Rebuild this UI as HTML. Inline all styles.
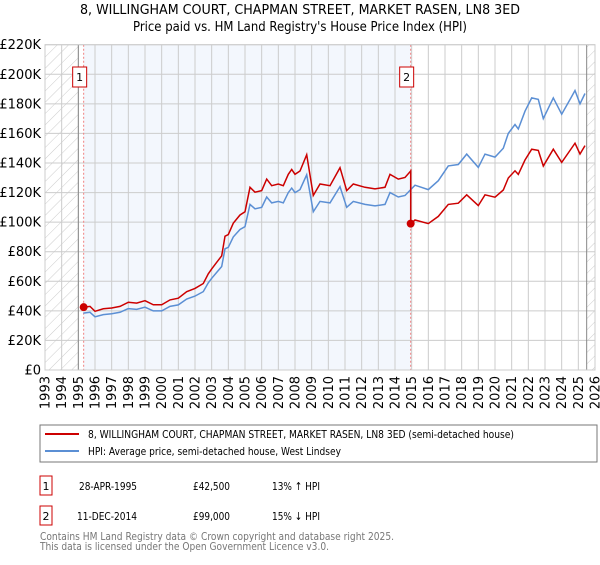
<!DOCTYPE html>
<html><head><meta charset="utf-8"><style>
body{margin:0;background:#fff;}
svg{font-family:"DejaVu Sans","Liberation Sans",sans-serif;}
</style></head><body>
<svg id="c" width="600" height="560" xmlns="http://www.w3.org/2000/svg">
<defs><pattern id="hatch" width="8" height="8" patternUnits="userSpaceOnUse" patternTransform="rotate(45)"><line x1="0" y1="0" x2="0" y2="8" stroke="#ccc" stroke-width="1"/></pattern></defs>
<text x="80" y="14" font-size="13" textLength="440" lengthAdjust="spacingAndGlyphs" fill="#000">8, WILLINGHAM COURT, CHAPMAN STREET, MARKET RASEN, LN8 3ED</text>
<text x="133" y="31" font-size="13" textLength="334" lengthAdjust="spacingAndGlyphs" fill="#000">Price paid vs. HM Land Registry's House Price Index (HPI)</text>
<g id="plot"></g>
<rect x="40" y="425" width="557" height="37" fill="#fff" stroke="#777"/>
<line x1="45" y1="434" x2="79" y2="434" stroke="#cc0000" stroke-width="2"/>
<text x="88" y="438" font-size="11" textLength="426" lengthAdjust="spacingAndGlyphs">8, WILLINGHAM COURT, CHAPMAN STREET, MARKET RASEN, LN8 3ED (semi-detached house)</text>
<line x1="45" y1="451" x2="79" y2="451" stroke="#5b8fd4" stroke-width="2"/>
<text x="88" y="455" font-size="11" textLength="253" lengthAdjust="spacingAndGlyphs">HPI: Average price, semi-detached house, West Lindsey</text>
<rect x="40" y="476" width="12" height="19" fill="#fff" stroke="#cc0000"/>
<text x="46" y="490" font-size="11" text-anchor="middle">1</text>
<text x="79" y="490" font-size="11" textLength="58" lengthAdjust="spacingAndGlyphs">28-APR-1995</text>
<text x="193" y="490" font-size="11" textLength="37" lengthAdjust="spacingAndGlyphs">£42,500</text>
<text x="272" y="490" font-size="11" textLength="48" lengthAdjust="spacingAndGlyphs">13% ↑ HPI</text>
<rect x="40" y="506" width="12" height="19" fill="#fff" stroke="#cc0000"/>
<text x="46" y="520" font-size="11" text-anchor="middle">2</text>
<text x="77" y="520" font-size="11" textLength="60" lengthAdjust="spacingAndGlyphs">11-DEC-2014</text>
<text x="193" y="520" font-size="11" textLength="37" lengthAdjust="spacingAndGlyphs">£99,000</text>
<text x="272" y="520" font-size="11" textLength="48" lengthAdjust="spacingAndGlyphs">15% ↓ HPI</text>
<text x="40" y="540" font-size="11" fill="#777" textLength="354" lengthAdjust="spacingAndGlyphs">Contains HM Land Registry data © Crown copyright and database right 2025.</text>
<text x="40" y="550" font-size="11" fill="#777" textLength="289" lengthAdjust="spacingAndGlyphs">This data is licensed under the Open Government Licence v3.0.</text>
</svg>
<script>
const hpiYears=[1995.3,1995.7,1996.0,1996.5,1997,1997.5,1998,1998.5,1999,1999.5,2000,2000.5,2001,2001.5,2002,2002.5,2002.8,2003,2003.3,2003.6,2003.8,2004,2004.3,2004.7,2005,2005.3,2005.6,2006,2006.3,2006.6,2007,2007.3,2007.6,2007.8,2008,2008.3,2008.7,2009.1,2009.5,2010.1,2010.7,2011.1,2011.5,2012.2,2012.8,2013.4,2013.7,2014.2,2014.6,2015.2,2016,2016.6,2017.2,2017.8,2018.3,2019,2019.4,2020,2020.5,2020.8,2021.2,2021.4,2021.8,2022.2,2022.6,2022.9,2023.5,2024,2024.6,2024.8,2025.1,2025.4];
const hpiValues=[38.5,39,36,37.5,38,39,41.5,41,42.5,40,40,43,44,48,50,53,59,62,66,70,82,83,90,95,97,112,109,110,117,113,114,113,120,123,120,122,132,107,114,113,124,110,114,112,111,112,120,117,118,125,122,128,138,139,146,137,146,144,150,160,166,163,175,184,183,170,184,173,185,189,180,187];
const saleDates=[1995.32,2014.94];
const salePrices=[42.5,99];
const yTicks=[0,20,40,60,80,100,120,140,160,180,200,220];
const xTicks=[1993,1994,1995,1996,1997,1998,1999,2000,2001,2002,2003,2004,2005,2006,2007,2008,2009,2010,2011,2012,2013,2014,2015,2016,2017,2018,2019,2020,2021,2022,2023,2024,2025,2026];
const X0=45,X1=595,Y0=370,Y1=44.7;
const xs=y=>X0+(y-1993)/(2026-1993)*(X1-X0);
const ys=v=>Y0-v/220*(Y0-Y1);
const NS="http://www.w3.org/2000/svg";
const g=document.getElementById('plot');
function mk(t,a,p){const e=document.createElementNS(NS,t);for(const k in a)e.setAttribute(k,a[k]);(p||g).appendChild(e);return e;}
function hpiAt(t){for(let i=0;i<hpiYears.length-1;i++){if(t<=hpiYears[i+1]){const f=(t-hpiYears[i])/(hpiYears[i+1]-hpiYears[i]);return hpiValues[i]+f*(hpiValues[i+1]-hpiValues[i]);}}return hpiValues[hpiValues.length-1];}
let e;
e=mk('rect',{x:xs(1993),y:Y1,width:xs(1995)-xs(1993),height:Y0-Y1,fill:'url(#hatch)'});

e=mk('rect',{x:xs(2025.5),y:Y1,width:X1-xs(2025.5),height:Y0-Y1,fill:'url(#hatch)'});

e=mk('rect',{x:xs(saleDates[0]),y:Y1,width:xs(saleDates[1])-xs(saleDates[0]),height:Y0-Y1,fill:'#eef3fc',opacity:0.7});

yTicks.forEach(v=>{const l=mk('line',{x1:X0,x2:X1,y1:ys(v),y2:ys(v),stroke:'#ccc'});

const t=mk('text',{x:X0-4,y:ys(v)+4.5,'text-anchor':'end','font-size':13});t.textContent=v===0?'£0':'£'+v+'K';
});
xTicks.forEach(yr=>{const l=mk('line',{x1:xs(yr),x2:xs(yr),y1:Y1,y2:Y0,stroke:'#ccc'});

const t=mk('text',{x:0,y:0,'text-anchor':'end','font-size':13,transform:`translate(${xs(yr)+4.5},${Y0+6}) rotate(-90)`});t.textContent=yr;
});
e=mk('line',{x1:xs(1995),x2:xs(1995),y1:Y1,y2:Y0,stroke:'#888'});
e=mk('line',{x1:xs(2025.5),x2:xs(2025.5),y1:Y1,y2:Y0,stroke:'#888'});
saleDates.forEach((d,i)=>{const l=mk('line',{x1:xs(d),x2:xs(d),y1:Y1,y2:Y0,stroke:'#f08080','stroke-dasharray':'2,2'});
});
let p=hpiYears.map((y,i)=>(i?'L':'M')+xs(y).toFixed(1)+','+ys(hpiValues[i]).toFixed(1)).join('');
e=mk('path',{d:p,fill:'none',stroke:'#5b8fd4','stroke-width':1.5});

const r1=salePrices[0]/hpiAt(saleDates[0]),r2=salePrices[1]/hpiAt(saleDates[1]);
let pts=[[saleDates[0],salePrices[0]]];
hpiYears.forEach((y,i)=>{if(y>saleDates[0]&&y<saleDates[1])pts.push([y,hpiValues[i]*r1]);});
pts.push([saleDates[1],hpiAt(saleDates[1])*r1]);pts.push([saleDates[1],salePrices[1]]);
hpiYears.forEach((y,i)=>{if(y>saleDates[1])pts.push([y,hpiValues[i]*r2]);});
p=pts.map((q,i)=>(i?'L':'M')+xs(q[0]).toFixed(1)+','+ys(q[1]).toFixed(1)).join('');
e=mk('path',{d:p,fill:'none',stroke:'#cc0000','stroke-width':1.5});

saleDates.forEach((d,i)=>{const c=mk('circle',{cx:xs(d),cy:ys(salePrices[i]),r:4,fill:'#cc0000'});

const b=mk('rect',{x:xs(d)-11,y:67,width:14,height:20,fill:'#fff',stroke:'#cc0000'});

const t=mk('text',{x:xs(d)-4,y:81,'text-anchor':'middle','font-size':11});t.textContent=String(i+1);
});
e=mk('rect',{x:X0,y:Y1,width:X1-X0,height:Y0-Y1,fill:'none',stroke:'#ccc'});

</script>
</body></html>
